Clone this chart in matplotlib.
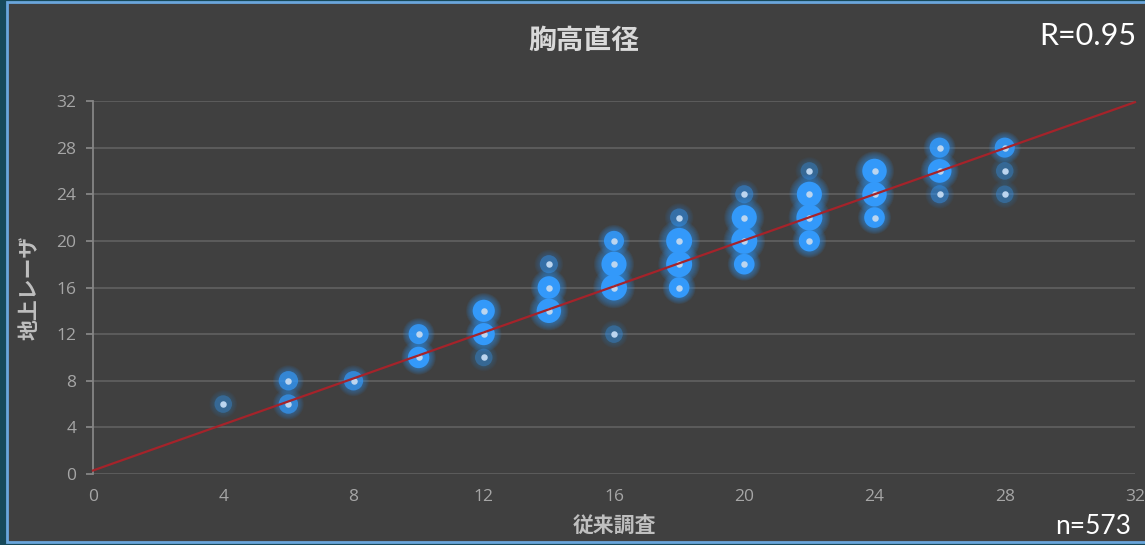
import numpy as np
import matplotlib
matplotlib.use("Agg")
import matplotlib.pyplot as plt
from matplotlib.patches import Rectangle

plt.rcParams['font.family'] = ['Noto Sans CJK JP', 'DejaVu Sans']

# conventional survey DBH (x), terrestrial laser DBH (y), number of trees at each pair
x_conv = [4, 6, 6, 8, 10, 10, 12, 12, 12, 14, 14, 14, 16, 16, 16, 16,
          18, 18, 18, 18, 20, 20, 20, 20, 22, 22, 22, 22, 24, 24, 24,
          26, 26, 26, 28, 28, 28]
y_laser = [6, 8, 6, 8, 12, 10, 14, 12, 10, 18, 16, 14, 20, 18, 16, 12,
           22, 20, 18, 16, 24, 22, 20, 18, 26, 24, 22, 20, 26, 24, 22,
           28, 26, 24, 28, 26, 24]
counts = [2, 6, 6, 6, 8, 13, 16, 16, 2, 3, 18, 28, 8, 32, 38, 2,
          3, 38, 38, 10, 3, 32, 38, 10, 2, 32, 38, 12, 28, 28, 10,
          8, 24, 3, 8, 2, 2]

# fitted line
intercept = 0.3
slope = 0.9875
r_text = "R=0.95"
n_text = "n=573"

ticks = [0, 4, 8, 12, 16, 20, 24, 28, 32]

bg = "#404040"
W, H = 1145, 545
fig = plt.figure(figsize=(W / 100, H / 100), dpi=100)
fig.patch.set_facecolor("#17495a")
fig.patches.append(Rectangle((7 / W, 3 / H), 1.0, 1 - 5 / H, transform=fig.transFigure,
                             facecolor=bg, edgecolor="#6aa6dc", linewidth=2, zorder=-5))

ax = fig.add_axes([93 / W, 71 / H, 1042 / W, 373 / H])
ax.set_zorder(2)
ax.patch.set_alpha(0)
ax.set_xlim(0, 32)
ax.set_ylim(0, 32)
ax.set_xticks(ticks)
ax.set_yticks(ticks)
ax.yaxis.grid(True, color="#5e5e5e", linewidth=1.3)
ax.set_axisbelow(True)
for s in ["top", "right", "bottom"]:
    ax.spines[s].set_visible(False)
ax.spines["left"].set_color("#858585")
ax.spines["left"].set_linewidth(1.3)
ax.tick_params(axis="y", colors="#858585", length=5, width=1.3, labelcolor="#a6a6a6",
               labelsize=12.5, pad=7)
ax.tick_params(axis="x", length=0, labelcolor="#a6a6a6", labelsize=12.5, pad=11)
for lab in ax.get_xticklabels() + ax.get_yticklabels():
    lab.set_family(["Open Sans", "DejaVu Sans"])

# bubbles: soft glow rings + solid disk + light centre
cnt = np.array(counts, dtype=float)
r_px = 7.5 + 5.5 * np.sqrt(cnt / cnt.max())
alpha = np.clip(0.15 + cnt / 11.0, 0, 1)
pt = 0.72  # points per pixel at 100 dpi
for g in np.linspace(1.6, 1.05, 8):
    ax.scatter(x_conv, y_laser, s=(2 * r_px * g * pt) ** 2, linewidths=0, zorder=2,
               facecolors=[(0.19, 0.56, 0.91, a * 0.09) for a in alpha])
ax.scatter(x_conv, y_laser, s=(2 * r_px * pt) ** 2, linewidths=0, zorder=3,
           facecolors=[(0.2, 0.6, 0.98, a) for a in alpha])
ax.scatter(x_conv, y_laser, s=(6.5 * pt) ** 2, linewidths=0, zorder=4,
           facecolors="#bcd5ef")

xs = np.array([0, 32])
ax.plot(xs, intercept + slope * xs, color="#a5232a", linewidth=1.6, zorder=5, clip_on=False)

fig.text(584 / W, 1 - 41 / H, "胸高直径", ha="center", va="center", fontsize=20,
         fontweight="bold", color="#d9d9d9")
fig.text(614 / W, 1 - 525 / H, "従来調査", ha="center", va="center", fontsize=15,
         fontweight="bold", color="#bfbfbf")
fig.text(29 / W, 1 - 288 / H, "地上レーザ", ha="center", va="center", fontsize=15,
         fontweight="bold", color="#bfbfbf", rotation=90)
fig.text(1136 / W, 1 - 36 / H, r_text, ha="right", va="center", fontsize=22,
         color="white", family=["Lato", "DejaVu Sans"])
fig.text(1131 / W, 1 - 526 / H, n_text, ha="right", va="center", fontsize=19,
         color="white", family=["Lato", "DejaVu Sans"])

fig.savefig("out.png", dpi=100, facecolor=fig.get_facecolor())
